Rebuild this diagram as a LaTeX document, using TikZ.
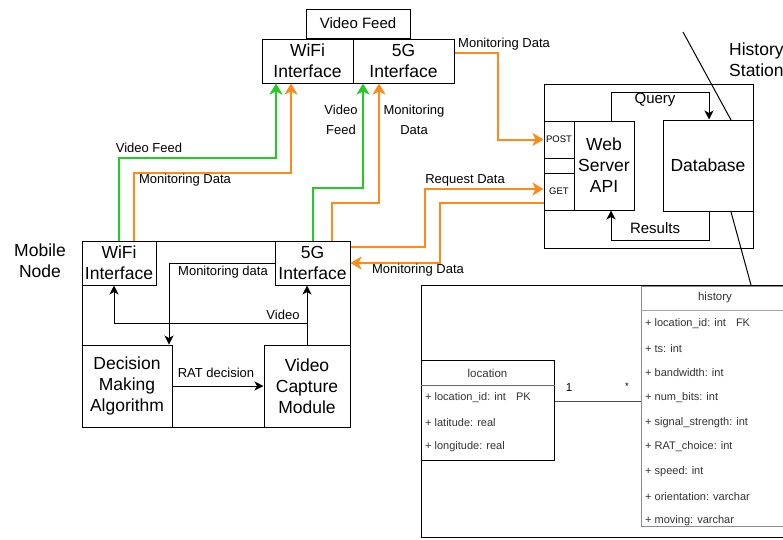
\documentclass[tikz,border=0pt]{standalone}
\usepackage{fontspec}
\setmainfont{Liberation Sans}
\usetikzlibrary{arrows.meta}
\definecolor{feedgreen}{HTML}{22CC22}
\definecolor{monorange}{HTML}{FF8A1A}
\begin{document}
\begin{tikzpicture}[x=1pt,y=-1pt,
  box/.style={draw=black, line width=1pt, inner sep=0pt, align=center, fill=white,
    font=\fontsize{17.5}{21}\selectfont},
  lbl/.style={inner sep=0pt, align=center, font=\fontsize{13}{20}\selectfont},
  mid/.style={inner sep=0pt, align=center, font=\fontsize{15}{18}\selectfont},
  tiny/.style={inner sep=0pt, font=\fontsize{9.5}{11}\selectfont},
  row/.style={inner sep=0pt, anchor=west, text=black!80, font=\fontsize{11}{13}\selectfont},
  hdr/.style={inner sep=0pt, text=black!80, font=\fontsize{11.5}{13}\selectfont},
  feed/.style={draw=feedgreen, line width=2pt, -{Stealth[length=11pt,width=13pt,inset=3pt]}},
  mon/.style={draw=monorange, line width=2pt, -{Stealth[length=11pt,width=13pt,inset=3pt]}},
  flow/.style={draw=black, line width=1pt, -{Stealth[length=9pt,width=9pt,inset=2.5pt]}},
  thin/.style={draw=black, line width=1pt}]
\useasboundingbox (0,0) rectangle (783,539);
\clip (0,0) rectangle (783,539);
\fill[white] (0,0) rectangle (783,539);

% ---- access point side: radio interfaces ----
\node[box, minimum width=104pt, minimum height=29pt, font=\fontsize{15}{18}\selectfont] (vfeed) at (358,23.5) {Video Feed};
\node[box, minimum width=91pt, minimum height=44pt] (wifiT) at (307.5,61) {WiFi\\Interface};
\node[box, minimum width=101pt, minimum height=44pt] (fivegT) at (403.5,61) {5G\\Interface};

% ---- mobile node ----
\node[box, minimum width=268pt, minimum height=186pt] (mobile) at (216,334) {};
\node[box, minimum width=74pt, minimum height=44pt] (wifiM) at (119,263) {WiFi\\Interface};
\node[box, minimum width=75pt, minimum height=44pt] (fivegM) at (312.5,263) {5G\\Interface};
\node[box, minimum width=90pt, minimum height=82pt] (decision) at (127,386) {Decision\\Making\\Algorithm};
\node[box, minimum width=86pt, minimum height=82pt] (vcap) at (307,386) {Video\\Capture\\Module};
\node[inner sep=0pt, align=center, font=\fontsize{17.5}{21}\selectfont] (mobileLbl) at (40,260.5) {Mobile\\Node};

% ---- history station ----
\node[box, minimum width=209pt, minimum height=164pt] (server) at (648.5,166) {};
\draw[thin] (683,32) -- (731,120) -- (731,212) -- (751,285);
\node[box, minimum width=60pt, minimum height=89pt] (api) at (604,165.5) {Web\\Server\\API};
\node[box, minimum width=30pt, minimum height=37pt, tiny] (post) at (559,139.5) {POST};
\node[box, minimum width=30pt, minimum height=37pt, tiny] (get) at (559,191.5) {GET};
\node[box, minimum width=90pt, minimum height=91pt] (db) at (708,165.5) {Database};
\node[inner sep=0pt, align=left, anchor=west, font=\fontsize{17.5}{21}\selectfont] (stationLbl) at (729,59.5) {History\\Station};

\draw[flow] ([xshift=7pt]api.north) |- (709,92) -- ([xshift=1pt]db.north);
\draw[flow] ([xshift=1pt]db.south) |- (611,240) -- ([xshift=7pt]api.south);
\node[mid] (queryLbl) at (655,100) {Query};
\node[mid] (resultsLbl) at (655,228) {Results};

% ---- database schema ----
\node[draw=black, line width=1pt, fill=white, inner sep=0pt, anchor=north west,
  minimum width=380pt, minimum height=252pt] (store) at (421,285) {};
\node[draw=black!45, line width=1pt, fill=white, inner sep=0pt, anchor=north west,
  minimum width=149pt, minimum height=240pt] (hist) at (641,286) {};
\draw[black!35, line width=1pt] ([yshift=-24pt]hist.north west) -- ([yshift=-24pt]hist.north east);
\node[hdr] (histHead) at (715,298) {history};
\foreach [count=\i] \t in {+ location\_id: int\hspace{10pt}FK, + ts: int, + bandwidth: int,
  + num\_bits: int, + signal\_strength: int, + RAT\_choice: int, + speed: int,
  + orientation: varchar, + moving: varchar}
  \node[row] (hrow\i) at (645,298.8+24.7*\i) {\t};

\node[draw=black, line width=1pt, fill=white, inner sep=0pt, anchor=north west,
  minimum width=133pt, minimum height=100pt] (loc) at (421,360) {};
\draw[black!60, line width=1pt] ([yshift=-25pt]loc.north west) -- ([yshift=-25pt]loc.north east);
\node[hdr] (locHead) at (487.5,373) {location};
\node[row] (lrow1) at (425,398) {+ location\_id: int\hspace{10pt}PK};
\node[row] (lrow2) at (425,423) {+ latitude: real};
\node[row] (lrow3) at (425,447) {+ longitude: real};

\coordinate (relrow) at (0,401);
\draw[black!70, line width=1pt] (loc.east |- relrow) -- (hist.west |- relrow);
\node[hdr, text=black] (oneLbl) at (569,388) {1};
\node[tiny] (manyLbl) at (627,386) {*};

% ---- links from the mobile node to the radio interfaces ----
\draw[feed] (wifiM.north) |- (276,158) -- ([xshift=-31.5pt]wifiT.south);
\draw[mon] ([xshift=15pt]wifiM.north) |- (291,173) -- ([xshift=-16.5pt]wifiT.south);
\draw[feed] ([xshift=0.5pt]fivegM.north) |- (363,188) -- ([xshift=-40.5pt]fivegT.south);
\draw[mon] ([xshift=19.5pt]fivegM.north) |- (379,203) -- ([xshift=-24.5pt]fivegT.south);
\node[lbl] (feedLbl) at (149,148) {Video Feed};
\node[lbl] (monLbl) at (185,180) {Monitoring Data};
\node[lbl] (feedLbl2) at (341,120) {Video\\Feed};
\node[lbl] (monLbl2) at (414,120) {Monitoring\\Data};

% ---- links to the web server ----
\draw[mon] ([yshift=8pt]fivegT.east) -| (498,139.5) -- (post.west);
\node[lbl, anchor=west] (monLbl3) at (458,44) {Monitoring Data};
\draw[mon] ([yshift=16pt]fivegM.east) -| (425,189) -- ([yshift=2.5pt]get.west);
\draw[mon] ([yshift=-11.5pt]get.west) -| (440,263) -- (fivegM.east);
\node[lbl] (reqLbl) at (465,180) {Request Data};
\node[lbl] (monLbl4) at (418,270) {Monitoring Data};

% ---- inside the mobile node ----
\draw[flow] (fivegM.west) -| ([xshift=42pt]decision.north);
\node[lbl] (mdLbl) at (223,272) {Monitoring data};
\draw[flow] (vcap.north) -- ([xshift=-5.5pt]fivegM.south);
\draw[flow] (307,323) -| ([xshift=-5pt]wifiM.south);
\node[lbl] (videoLbl) at (283,315) {Video};
\draw[flow] (decision.east) -- (vcap.west);
\node[lbl] (ratLbl) at (216,373) {RAT decision};
\end{tikzpicture}
\end{document}
